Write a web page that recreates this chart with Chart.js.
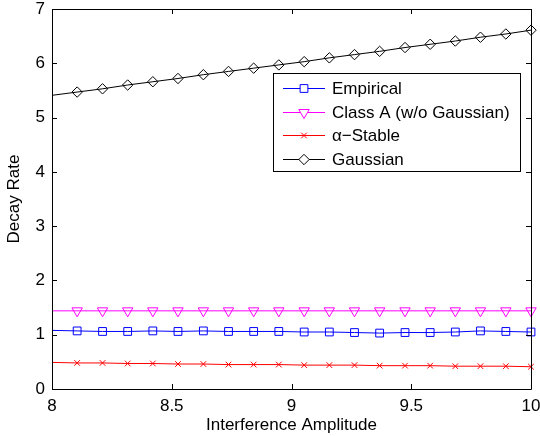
<!DOCTYPE html>
<html>
<head>
<meta charset="utf-8">
<script src="https://cdn.jsdelivr.net/npm/chart.js@4/dist/chart.umd.min.js"></script>
<style>
html,body{margin:0;padding:0;background:#fff}
#wrap{width:540px;height:436px}
</style>
</head>
<body>
<div id="wrap"><canvas id="c" width="540" height="436"></canvas></div>
<script>
const amplitude = [8.000, 8.105, 8.211, 8.316, 8.421, 8.526, 8.632, 8.737, 8.842, 8.947,
  9.053, 9.158, 9.263, 9.368, 9.474, 9.579, 9.684, 9.789, 9.895, 10.000]
const empirical = [1.08, 1.07, 1.06, 1.06, 1.07, 1.06, 1.07, 1.06, 1.06, 1.06,
  1.05, 1.05, 1.04, 1.03, 1.04, 1.04, 1.05, 1.07, 1.06, 1.05]
const classA = [1.44, 1.44, 1.44, 1.44, 1.44, 1.44, 1.44, 1.44, 1.44, 1.44,
  1.44, 1.44, 1.44, 1.44, 1.44, 1.44, 1.44, 1.44, 1.44, 1.44]
const alphaStable = [0.49, 0.48, 0.48, 0.47, 0.47, 0.46, 0.46, 0.45, 0.45, 0.45,
  0.44, 0.44, 0.44, 0.43, 0.43, 0.43, 0.42, 0.42, 0.42, 0.41]
const gaussian = [5.41, 5.47, 5.53, 5.60, 5.66, 5.72, 5.79, 5.85, 5.91, 5.97,
  6.03, 6.10, 6.16, 6.22, 6.29, 6.35, 6.41, 6.48, 6.54, 6.61]
const xTicks = [8, 8.5, 9, 9.5, 10]
const yTicks = [0, 1, 2, 3, 4, 5, 6, 7]
const labels = ["Empirical", "Class A (w/o Gaussian)", "\u03b1\u2212Stable", "Gaussian"]

const FONT = "'Liberation Sans', Arial, Helvetica, sans-serif"
const FS = 17

function pts(ys){
  return ys.map((y,i)=>({x:amplitude[i], y:y}))
}
// MATLAB run had no marker on the first sample
function radii(r){
  return amplitude.map((_,i)=> i===0 ? 0 : r)
}

function makeSet(label, ys, color, style, r, rot){
  return {
    label:label,
    data:pts(ys),
    borderColor:color,
    backgroundColor:'rgba(0,0,0,0)',
    pointBorderColor:color,
    pointBackgroundColor:'rgba(0,0,0,0)',
    borderWidth:1,
    pointBorderWidth:1,
    pointStyle:style,
    pointRadius:radii(r),
    pointRotation:rot||0,
    tension:0,
    clip:false,
    legendRadius:r
  }
}

// box, inward ticks and the legend, drawn the MATLAB way
const boxPlugin = {
  id:'box',
  afterDraw(chart){
    const ctx = chart.ctx
    const a = chart.chartArea
    const xs = chart.scales.x, ys = chart.scales.y
    ctx.save()
    ctx.strokeStyle = '#000'
    ctx.lineWidth = 1
    ctx.beginPath()
    ctx.rect(Math.round(a.left)+0.5, Math.round(a.top)+0.5,
      Math.round(a.right-a.left), Math.round(a.bottom-a.top))
    ctx.stroke()
    ctx.beginPath()
    const t = 5
    xTicks.forEach(v=>{
      const px = Math.round(xs.getPixelForValue(v))+0.5
      ctx.moveTo(px, a.bottom); ctx.lineTo(px, a.bottom-t)
      ctx.moveTo(px, a.top); ctx.lineTo(px, a.top+t)
    })
    yTicks.forEach(v=>{
      const py = Math.round(ys.getPixelForValue(v))+0.5
      ctx.moveTo(a.left, py); ctx.lineTo(a.left+t, py)
      ctx.moveTo(a.right, py); ctx.lineTo(a.right-t, py)
    })
    ctx.stroke()

    // legend
    const lx = 273.5, ly = 73.5, lw = 247, lh = 98
    ctx.fillStyle = '#fff'
    ctx.fillRect(lx, ly, lw, lh)
    ctx.strokeRect(lx, ly, lw, lh)
    ctx.font = FS + 'px ' + FONT
    ctx.textBaseline = 'middle'
    chart.data.datasets.forEach((ds,i)=>{
      const cy = Math.round(88 + i*23.5)+0.5
      ctx.strokeStyle = ds.borderColor
      ctx.beginPath()
      ctx.moveTo(283, cy); ctx.lineTo(325, cy)
      ctx.stroke()
      ctx.fillStyle = '#fff'
      Chart.helpers.drawPoint(ctx, {
        pointStyle:ds.pointStyle, rotation:ds.pointRotation,
        radius:ds.legendRadius, borderWidth:1
      }, 304, cy)
      ctx.fillStyle = '#000'
      ctx.fillText(ds.label, 332, cy+1)
    })
    ctx.restore()
  }
}

new Chart(document.getElementById('c'), {
  type:'line',
  data:{
    datasets:[
      makeSet(labels[0], empirical, '#0000ff', 'rect', 5.5),
      makeSet(labels[1], classA, '#ff00ff', 'triangle', 6, 180),
      makeSet(labels[2], alphaStable, '#ff0000', 'crossRot', 4),
      makeSet(labels[3], gaussian, '#000000', 'rectRot', 5.2)
    ]
  },
  options:{
    responsive:false,
    animation:false,
    layout:{padding:{top:9, right:9, left:0, bottom:0}},
    plugins:{legend:{display:false}, tooltip:{enabled:false}},
    scales:{
      x:{
        type:'linear', min:8, max:10,
        afterBuildTicks(s){ s.ticks = xTicks.map(v=>({value:v})) },
        afterFit(s){ s.height = 47; s.paddingLeft = 0; s.paddingRight = 0 },
        grid:{display:false, drawTicks:false},
        border:{display:false},
        ticks:{color:'#000', font:{family:FONT, size:FS}, padding:7,
          maxRotation:0, callback:v=>String(v)},
        title:{display:true, text:'Interference Amplitude', color:'#000',
          font:{family:FONT, size:FS}, padding:{top:0, bottom:0}}
      },
      y:{
        min:0, max:7,
        afterBuildTicks(s){ s.ticks = yTicks.map(v=>({value:v})) },
        afterFit(s){ s.width = 52; s.paddingTop = 0; s.paddingBottom = 0 },
        grid:{display:false, drawTicks:false},
        border:{display:false},
        ticks:{color:'#000', font:{family:FONT, size:FS}, padding:7,
          callback:v=>String(v)},
        title:{display:true, text:'Decay Rate', color:'#000',
          font:{family:FONT, size:FS}, padding:{top:4, bottom:0}}
      }
    }
  },
  plugins:[boxPlugin]
})
</script>
</body>
</html>
